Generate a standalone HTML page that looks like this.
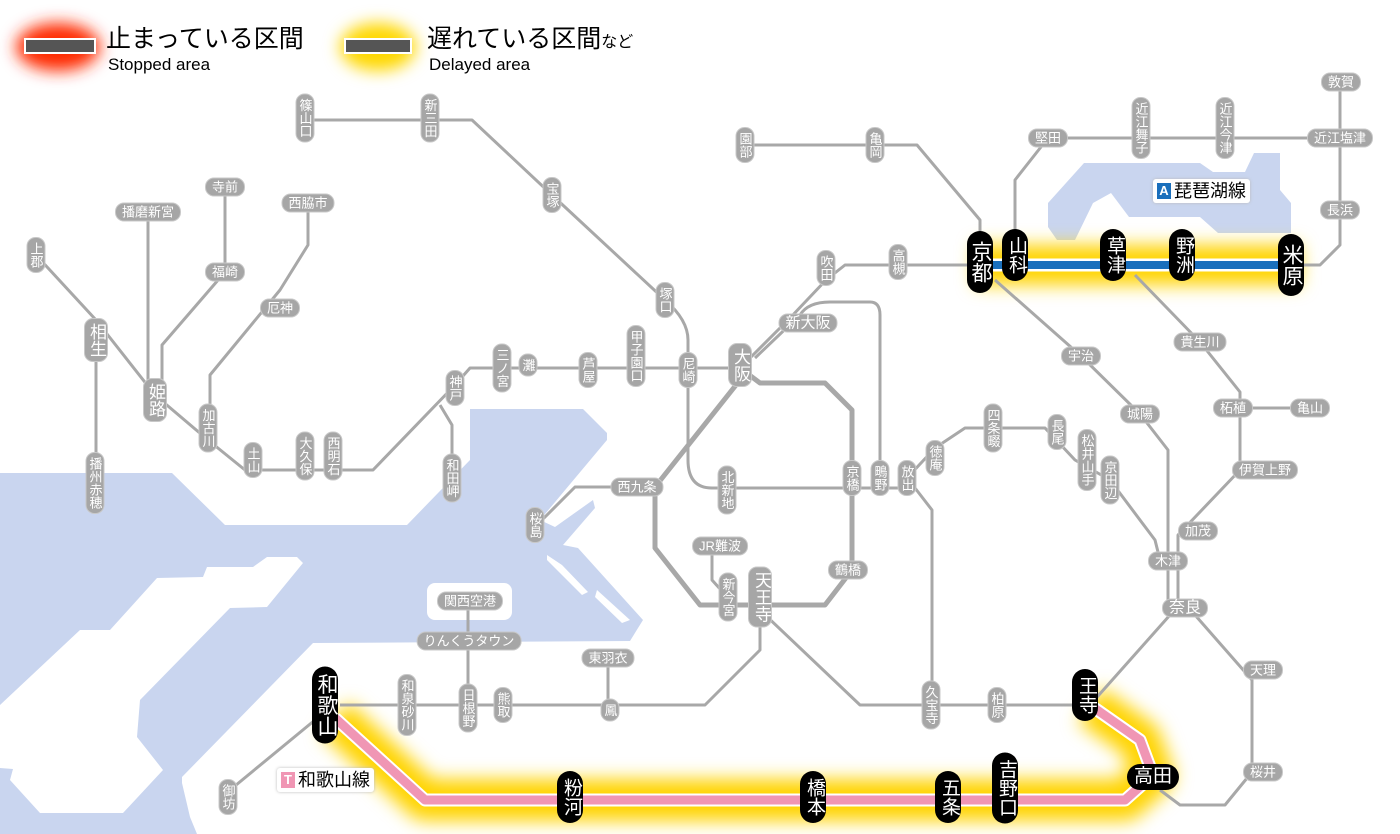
<!DOCTYPE html>
<html><head><meta charset="utf-8">
<style>
body{margin:0;width:1400px;height:834px;overflow:hidden;background:#fff;position:relative;font-family:"Liberation Sans","Noto Sans CJK JP",sans-serif}
svg{position:absolute;left:0;top:0}
.s,.h,.b,.bh{position:absolute;transform:translate(-50%,-50%);color:#fff;white-space:nowrap;text-align:center}
.s,.h{background:#a6a6a6;font-size:13px;border:1px solid #c8c8c8}
.s{writing-mode:vertical-rl;text-orientation:upright;width:17px;line-height:17px;padding:4px 0;border-radius:9px}
.h{line-height:17px;padding:0 6px;border-radius:9px}
.b{background:#000;writing-mode:vertical-rl;text-orientation:upright;width:26px;line-height:26px;font-size:21px;padding:7px 0;border-radius:13px}
.bh{background:#000;font-size:19px;line-height:26px;padding:0 7px;border-radius:13px}
.lg{position:absolute;color:#000}
.tag{position:absolute;background:#fff;font-size:18px;line-height:24px;padding:0 4px;border-radius:3px;box-shadow:0 0 3px #bbb}
.tag span{display:inline-block;color:#fff;font-size:13px;font-weight:bold;width:14px;line-height:16px;text-align:center;margin-right:3px;vertical-align:2px}
</style></head><body>
<svg width="1400" height="834" viewBox="0 0 1400 834">
<defs>
<filter id="bl" filterUnits="userSpaceOnUse" x="0" y="0" width="1400" height="834"><feGaussianBlur stdDeviation="9"/></filter>
<filter id="bl2" filterUnits="userSpaceOnUse" x="0" y="0" width="1400" height="834"><feGaussianBlur stdDeviation="8"/></filter>
</defs>
<g fill="#c9d5ef">
<polygon points="0,473 172,473 225,525 407,525 470,460 470,409 583,409 607,433 607,440 540,520 555,527 593,500 595,508 563,545 578,548 643,620 630,641 313,643 182,777 182,783 190,817 197,834 0,834"/>
<polygon points="1048,203 1084,163 1200,163 1213,172 1245,172 1254,153 1280,153 1280,190 1291,203 1291,233 1218,233 1200,217 1129,217 1111,193 1093,203 1075,240 1057,240 1048,227"/>
</g>
<g fill="#fff">
<polygon points="0,705 80,630 110,630 157,578 203,577 207,567 253,567 267,557 297,557 303,563 267,607 230,608 140,700 137,737 163,770 123,813 40,813 10,780 13,769 0,768"/>
<rect x="427" y="583" width="85" height="37" rx="8"/>
<polygon points="547,555 562,565 588,592 582,595 547,560"/>
<polygon points="597,590 630,620 622,623 595,597"/>
</g>
<!-- legend glows -->
<ellipse cx="58" cy="47" rx="42" ry="24" fill="#ff2a00" filter="url(#bl2)"/>
<ellipse cx="378" cy="47" rx="38" ry="24" fill="#ffd800" filter="url(#bl2)"/>
<rect x="25" y="39" width="70" height="14" fill="#555" stroke="#fff" stroke-width="2"/>
<rect x="345" y="39" width="66" height="14" fill="#555" stroke="#fff" stroke-width="2"/>
<!-- highlight glows -->
<path d="M975,265 H1300" stroke="#ffd400" stroke-width="40" fill="none" filter="url(#bl)"/>
<path d="M335,718 L425,800 H1125 L1153,775 L1140,740 L1090,705" stroke="#ffd400" stroke-width="42" fill="none" stroke-linejoin="round" filter="url(#bl)"/>
<g stroke="#a8a8a8" stroke-width="3" fill="none" stroke-linejoin="round">
<path d="M305,120 H472 L552,195 L665,300 Q688,320 688,340 V460 Q688,488 712,488 H907"/>
<path d="M36,255 L96,320 L155,395 L208,440 L245,470 H373 L455,385 L470,368 H740"/>
<path d="M96,340 V500"/>
<path d="M148,212 V395"/>
<path d="M225,187 V272 L162,345 V395"/>
<path d="M308,203 V245 L280,290 L210,375 V440"/>
<path d="M440,405 L452,425 V495"/>
<path d="M740,368 L790,318 L826,280 L845,265 H980"/>
<path d="M755,358 L800,315 Q808,302 830,302 H870 Q880,302 880,315 V478"/>
<path d="M907,478 L935,448 L965,428 H1045 L1075,460 L1110,480 L1155,540 L1160,560"/>
<path d="M915,488 L932,510 V705"/>
<path d="M760,610 L860,705 H1085"/>
<path d="M760,610 V650 L705,705 H340"/>
<path d="M608,658 V710"/>
<path d="M468,601 V705"/>
<path d="M315,720 L230,790"/>
<path d="M1090,705 L1170,615"/>
<path d="M1195,615 L1252,680 V772 L1225,805 H1180 L1160,790"/>
<path d="M995,280 L1081,356 L1140,414 L1168,450 V608"/>
<path d="M1178,608 V535 L1240,470 V392 L1200,342 L1135,275"/>
<path d="M1240,408 H1310"/>
<path d="M745,145 H917 L980,220 V262"/>
<path d="M1015,245 V180 L1048,138 H1340"/>
<path d="M1340,82 V245 L1320,265 H1300"/>
<path d="M537,525 L575,487 H655"/>
<path d="M712,546 V580 L730,600"/>
</g>
<g stroke="#a8a8a8" stroke-width="5" fill="none" stroke-linejoin="round">
<path d="M740,368 L760,383 H825 L852,410 V570 L825,605 H700 L655,548 V487 L740,380"/>
</g>
<path d="M980,265 H1291" stroke="#fff" stroke-width="13" fill="none"/>
<path d="M980,265 H1291" stroke="#1a6fbc" stroke-width="8" fill="none"/>
<path d="M335,718 L425,800 H1125 L1153,775 L1140,740 L1090,705" stroke="#fff" stroke-width="13" fill="none" stroke-linejoin="round"/>
<path d="M335,718 L425,800 H1125 L1153,775 L1140,740 L1090,705" stroke="#f096b4" stroke-width="9" fill="none" stroke-linejoin="round"/>
</svg>

<div class="lg" style="left:106px;top:24px;font-size:25px;line-height:30px">止まっている区間</div>
<div class="lg" style="left:108px;top:55px;font-size:17px;line-height:20px">Stopped area</div>
<div class="lg" style="left:427px;top:24px;font-size:25px;line-height:30px">遅れている区間<span style="font-size:16px">など</span></div>
<div class="lg" style="left:429px;top:55px;font-size:17px;line-height:20px">Delayed area</div>

<div class="tag" style="left:1153px;top:179px"><span style="background:#1a6fbc">A</span>琵琶湖線</div>
<div class="tag" style="left:277px;top:768px"><span style="background:#f096b4">T</span>和歌山線</div>

<div class="s" style="left:305px;top:118px">篠山口</div>
<div class="s" style="left:430px;top:118px">新三田</div>
<div class="s" style="left:552px;top:195px">宝塚</div>
<div class="s" style="left:665px;top:300px">塚口</div>
<div class="s" style="left:688px;top:370px">尼崎</div>
<div class="s" style="left:636px;top:356px">甲子園口</div>
<div class="s" style="left:588px;top:370px">芦屋</div>
<div class="s" style="left:528px;top:365px">灘</div>
<div class="s" style="left:502px;top:368px">三ノ宮</div>
<div class="s" style="left:455px;top:388px">神戸</div>
<div class="s" style="left:452px;top:478px">和田岬</div>
<div class="s" style="left:333px;top:456px">西明石</div>
<div class="s" style="left:305px;top:456px">大久保</div>
<div class="s" style="left:253px;top:460px">土山</div>
<div class="s" style="left:208px;top:428px">加古川</div>
<div class="s" style="left:155px;top:400px;font-size:17px;width:22px;line-height:21px">姫路</div>
<div class="s" style="left:96px;top:340px;font-size:17px;width:22px;line-height:21px">相生</div>
<div class="s" style="left:36px;top:255px">上郡</div>
<div class="s" style="left:95px;top:483px">播州赤穂</div>
<div class="h" style="left:148px;top:212px">播磨新宮</div>
<div class="h" style="left:225px;top:187px">寺前</div>
<div class="h" style="left:225px;top:272px">福崎</div>
<div class="h" style="left:308px;top:203px">西脇市</div>
<div class="h" style="left:280px;top:308px">厄神</div>
<div class="s" style="left:740px;top:365px;font-size:17px;width:22px;line-height:21px">大阪</div>
<div class="h" style="left:808px;top:323px;font-size:15px">新大阪</div>
<div class="s" style="left:826px;top:268px">吹田</div>
<div class="s" style="left:898px;top:262px">高槻</div>
<div class="s" style="left:745px;top:145px">園部</div>
<div class="s" style="left:875px;top:145px">亀岡</div>
<div class="h" style="left:1048px;top:138px">堅田</div>
<div class="s" style="left:1141px;top:128px">近江舞子</div>
<div class="s" style="left:1225px;top:128px">近江今津</div>
<div class="h" style="left:1340px;top:138px">近江塩津</div>
<div class="h" style="left:1341px;top:82px">敦賀</div>
<div class="h" style="left:1340px;top:210px">長浜</div>
<div class="h" style="left:1081px;top:356px">宇治</div>
<div class="h" style="left:1140px;top:414px">城陽</div>
<div class="h" style="left:1200px;top:342px">貴生川</div>
<div class="h" style="left:1233px;top:408px">柘植</div>
<div class="h" style="left:1310px;top:408px">亀山</div>
<div class="h" style="left:1265px;top:470px">伊賀上野</div>
<div class="h" style="left:1198px;top:531px">加茂</div>
<div class="h" style="left:1168px;top:561px">木津</div>
<div class="h" style="left:1185px;top:608px;font-size:16px">奈良</div>
<div class="h" style="left:1263px;top:670px">天理</div>
<div class="h" style="left:1263px;top:772px">桜井</div>
<div class="s" style="left:997px;top:705px">柏原</div>
<div class="s" style="left:931px;top:705px">久宝寺</div>
<div class="s" style="left:907px;top:478px">放出</div>
<div class="s" style="left:880px;top:478px">鴫野</div>
<div class="s" style="left:852px;top:478px">京橋</div>
<div class="s" style="left:935px;top:458px">徳庵</div>
<div class="s" style="left:993px;top:428px">四条畷</div>
<div class="s" style="left:1057px;top:432px">長尾</div>
<div class="s" style="left:1087px;top:460px">松井山手</div>
<div class="s" style="left:1110px;top:480px">京田辺</div>
<div class="s" style="left:727px;top:490px">北新地</div>
<div class="h" style="left:637px;top:487px">西九条</div>
<div class="s" style="left:535px;top:525px">桜島</div>
<div class="h" style="left:720px;top:546px">JR難波</div>
<div class="s" style="left:728px;top:597px">新今宮</div>
<div class="s" style="left:760px;top:597px;font-size:17px;width:22px;line-height:19px">天王寺</div>
<div class="h" style="left:848px;top:570px">鶴橋</div>
<div class="h" style="left:470px;top:601px">関西空港</div>
<div class="h" style="left:469px;top:641px">りんくうタウン</div>
<div class="s" style="left:468px;top:708px">日根野</div>
<div class="s" style="left:503px;top:705px">熊取</div>
<div class="s" style="left:407px;top:705px">和泉砂川</div>
<div class="h" style="left:608px;top:658px">東羽衣</div>
<div class="s" style="left:610px;top:710px">鳳</div>
<div class="s" style="left:228px;top:797px">御坊</div>

<div class="b" style="left:980px;top:262px;padding:10px 0">京都</div>
<div class="b" style="left:1015px;top:255px;font-size:19px;line-height:23px">山科</div>
<div class="b" style="left:1113px;top:255px;font-size:19px;line-height:23px">草津</div>
<div class="b" style="left:1182px;top:255px;font-size:19px;line-height:23px">野洲</div>
<div class="b" style="left:1291px;top:265px;padding:10px 0">米原</div>
<div class="b" style="left:325px;top:705px;line-height:24px">和歌山</div>
<div class="b" style="left:1085px;top:695px;font-size:19px;line-height:23px">王寺</div>
<div class="bh" style="left:1153px;top:777px">高田</div>
<div class="b" style="left:570px;top:797px;font-size:19px;line-height:23px">粉河</div>
<div class="b" style="left:813px;top:797px;font-size:19px;line-height:23px">橋本</div>
<div class="b" style="left:948px;top:797px;font-size:19px;line-height:23px">五条</div>
<div class="b" style="left:1005px;top:788px;font-size:19px;line-height:23px">吉野口</div>
</body></html>
